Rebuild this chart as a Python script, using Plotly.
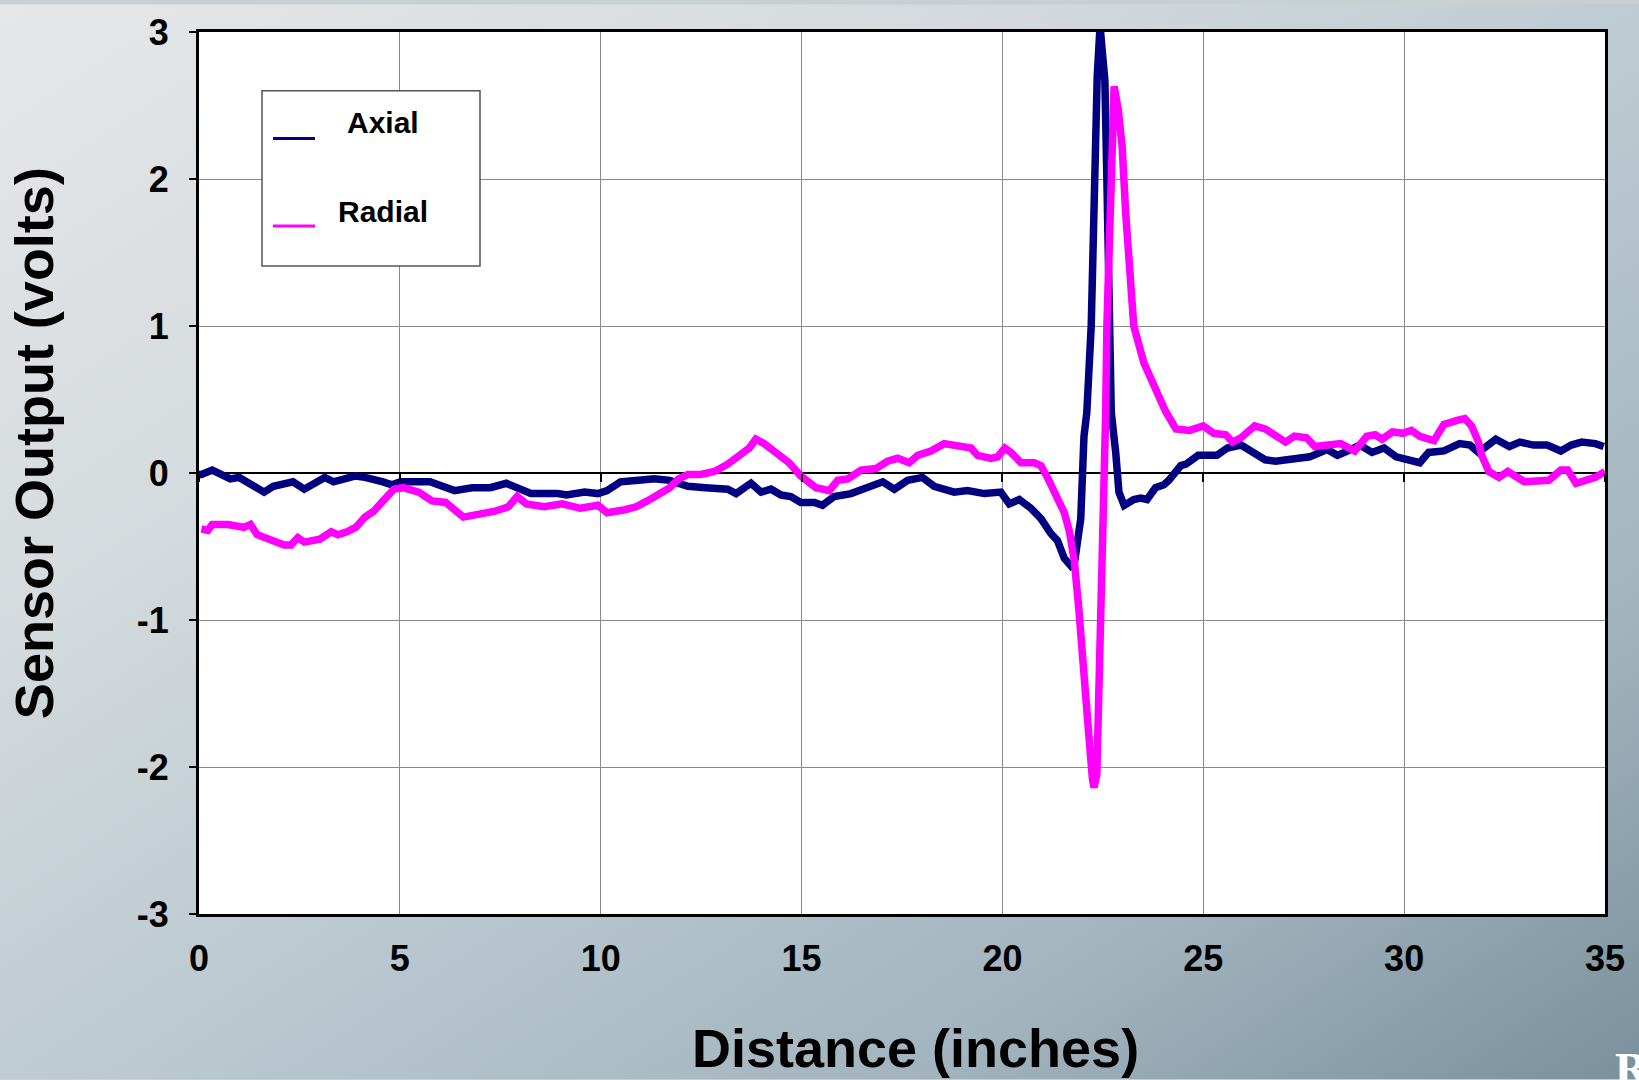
import base64
import plotly.graph_objects as go

# ---------------- data ----------------
axial_x = [0.0, 0.06, 0.33, 0.55, 0.78, 1.0, 1.34, 1.62, 1.85, 2.12, 2.34, 2.62, 2.9, 3.13, 3.35,
           3.6, 3.9, 4.13, 4.35, 4.58, 4.8, 5.02, 5.75, 6.36, 6.8, 7.25, 7.65, 7.92, 8.26, 8.93,
           9.15, 9.6, 9.93, 10.16, 10.49, 10.94, 11.33, 11.72, 12.17, 12.61, 13.16, 13.37, 13.57,
           13.74, 13.99, 14.24, 14.49, 14.73, 14.98, 15.32, 15.52, 15.81, 16.23, 16.64, 17.02,
           17.31, 17.64, 18.01, 18.3, 18.8, 19.13, 19.55, 19.96, 20.17, 20.42, 20.71, 20.96, 21.2,
           21.37, 21.54, 21.7, 21.8, 21.86, 21.95, 22.03, 22.1, 22.21, 22.28, 22.36, 22.43, 22.5,
           22.55, 22.6, 22.65, 22.71, 22.82, 22.9, 23.03, 23.27, 23.44, 23.6, 23.81, 24.02, 24.14,
           24.27, 24.44, 24.57, 24.87, 25.34, 25.6, 25.94, 26.2, 26.54, 26.8, 27.23, 27.65, 28.08,
           28.34, 28.6, 28.9, 29.2, 29.5, 29.8, 30.14, 30.39, 30.61, 30.99, 31.38, 31.64, 31.85,
           32.28, 32.62, 32.88, 33.22, 33.56, 33.9, 34.16, 34.42, 34.76, 34.97]
axial_y = [-0.01, -0.01, 0.02, -0.01, -0.04, -0.03, -0.09, -0.13, -0.09, -0.07, -0.06, -0.11, -0.06,
           -0.03, -0.06, -0.04, -0.02, -0.03, -0.04, -0.06, -0.08, -0.06, -0.06, -0.12, -0.10, -0.10,
           -0.07, -0.10, -0.14, -0.14, -0.15, -0.13, -0.14, -0.12, -0.06, -0.05, -0.04, -0.05, -0.09,
           -0.10, -0.11, -0.14, -0.11, -0.07, -0.13, -0.11, -0.15, -0.16, -0.20, -0.20, -0.22, -0.16,
           -0.14, -0.10, -0.06, -0.11, -0.05, -0.03, -0.09, -0.13, -0.12, -0.14, -0.13, -0.21, -0.18,
           -0.24, -0.31, -0.41, -0.46, -0.58, -0.63, -0.60, -0.51, -0.31, 0.25, 0.41, 1.0, 2.0, 2.7,
           3.04, 2.8, 2.67, 2.0, 1.0, 0.41, 0.14, -0.13, -0.22, -0.18, -0.17, -0.18, -0.10, -0.08,
           -0.05, 0.0, 0.05, 0.06, 0.12, 0.12, 0.17, 0.19, 0.14, 0.09, 0.08, 0.09, 0.11, 0.16, 0.12,
           0.15, 0.19, 0.14, 0.17, 0.11, 0.09, 0.07, 0.14, 0.15, 0.20, 0.19, 0.14, 0.23, 0.18, 0.21,
           0.19, 0.19, 0.15, 0.19, 0.21, 0.20, 0.18]

radial_x = [0.06, 0.22, 0.33, 0.73, 1.12, 1.28, 1.45, 1.73, 2.12, 2.29, 2.46, 2.62, 3.01, 3.29, 3.46,
            3.68, 3.9, 4.13, 4.35, 4.58, 4.85, 5.08, 5.47, 5.8, 6.14, 6.58, 7.03, 7.37, 7.7, 7.92,
            8.15, 8.59, 9.04, 9.49, 9.93, 10.16, 10.6, 10.88, 11.16, 11.5, 11.72, 11.94, 12.17,
            12.49, 12.83, 13.16, 13.49, 13.7, 13.86, 14.07, 14.4, 14.69, 14.98, 15.36, 15.69, 15.9,
            16.15, 16.48, 16.85, 17.14, 17.39, 17.68, 17.89, 18.22, 18.55, 18.88, 19.22, 19.38,
            19.71, 19.88, 20.06, 20.21, 20.46, 20.79, 20.96, 21.12, 21.37, 21.54, 21.67, 21.79, 21.9,
            21.99, 22.07, 22.15, 22.24, 22.28, 22.35, 22.4, 22.46, 22.53, 22.57, 22.6, 22.71, 22.78,
            22.88, 22.98, 23.07, 23.18, 23.27, 23.52, 23.72, 23.86, 24.06, 24.32, 24.66, 25.0, 25.26,
            25.56, 25.73, 25.94, 26.28, 26.54, 27.05, 27.27, 27.57, 27.78, 28.17, 28.42, 28.77,
            29.07, 29.28, 29.45, 29.71, 29.97, 30.18, 30.39, 30.74, 30.99, 31.34, 31.51, 31.68,
            31.85, 31.93, 32.11, 32.36, 32.58, 33.0, 33.3, 33.6, 33.9, 34.07, 34.28, 34.5, 34.76, 35.0]
radial_y = [-0.38, -0.39, -0.35, -0.35, -0.37, -0.35, -0.42, -0.45, -0.49, -0.49, -0.44, -0.47, -0.45,
            -0.40, -0.42, -0.40, -0.37, -0.30, -0.26, -0.19, -0.11, -0.10, -0.13, -0.19, -0.20, -0.30,
            -0.28, -0.26, -0.23, -0.16, -0.21, -0.23, -0.21, -0.24, -0.22, -0.27, -0.25, -0.23, -0.19,
            -0.14, -0.10, -0.04, -0.01, -0.01, 0.01, 0.06, 0.12, 0.17, 0.23, 0.20, 0.13, 0.07, -0.02,
            -0.10, -0.12, -0.05, -0.04, 0.02, 0.03, 0.08, 0.10, 0.07, 0.12, 0.15, 0.20, 0.18, 0.17,
            0.12, 0.10, 0.11, 0.17, 0.14, 0.07, 0.07, 0.05, -0.03, -0.16, -0.27, -0.40, -0.60, -0.92,
            -1.29, -1.56, -1.78, -2.08, -2.14, -2.05, -1.56, -0.88, 0.02, 0.41, 1.0, 2.22, 2.63, 2.48,
            2.22, 1.76, 1.31, 1.0, 0.75, 0.62, 0.52, 0.42, 0.30, 0.29, 0.32, 0.27, 0.26, 0.21, 0.24,
            0.32, 0.30, 0.21, 0.25, 0.24, 0.18, 0.20, 0.20, 0.15, 0.25, 0.26, 0.23, 0.28, 0.27, 0.29,
            0.25, 0.22, 0.33, 0.36, 0.37, 0.32, 0.21, 0.12, 0.01, -0.03, 0.01, -0.06, -0.05, -0.05,
            0.02, 0.02, -0.07, -0.05, -0.03, 0.01]

series_names = ["Axial", "Radial"]
series_colors = ["#000080", "#FF00FF"]
x_ticks = [0, 5, 10, 15, 20, 25, 30, 35]
y_ticks = [-3, -2, -1, 0, 1, 2, 3]
x_title = "Distance (inches)"
y_title = "Sensor Output (volts)"

# ---------------- layout geometry ----------------
W, H = 1639, 1080
ML, MR, MT, MB = 199, 34, 28, 166
PW, PH = W - ML - MR, H - MT - MB
FONT = "Arial, 'Liberation Sans', sans-serif"


def px_x(p):
    return (p - ML) / PW


def px_y(p):
    return (H - MB - p) / PH


# gradient background as an inline SVG image
svg = f'''<svg xmlns="http://www.w3.org/2000/svg" width="{W}" height="{H}" viewBox="0 0 {W} {H}" preserveAspectRatio="none">
<defs>
<linearGradient id="g" x1="0" y1="0" x2="1" y2="1">
<stop offset="0" stop-color="#e6e7e8"/>
<stop offset="0.3" stop-color="#d4dadd"/>
<stop offset="0.55" stop-color="#bac8d0"/>
<stop offset="0.78" stop-color="#a2b4be"/>
<stop offset="1" stop-color="#7a909c"/>
</linearGradient>
</defs>
<rect x="0" y="0" width="{W}" height="{H}" fill="url(#g)"/>
</svg>'''
bg_src = "data:image/svg+xml;base64," + base64.b64encode(svg.encode()).decode()

fig = go.Figure()
fig.add_trace(go.Scatter(x=axial_x, y=axial_y, mode="lines", name=series_names[0],
                         line=dict(color=series_colors[0], width=7.5), showlegend=False))
fig.add_trace(go.Scatter(x=radial_x, y=radial_y, mode="lines", name=series_names[1],
                         line=dict(color=series_colors[1], width=7.5), showlegend=False))
# helper trace so the tick marks on the zero line (x axis crossing) are drawn
fig.add_trace(go.Scatter(x=[x_ticks[0]], y=[None], xaxis="x2", mode="lines",
                         showlegend=False, hoverinfo="skip"))

tickfont = dict(family=FONT, size=36, color="black", weight="bold")

fig.update_layout(
    width=W, height=H,
    margin=dict(l=ML, r=MR, t=MT, b=MB),
    paper_bgcolor="#c8d0d4",
    plot_bgcolor="white",
    showlegend=False,
    xaxis=dict(range=[0, 35], tickvals=x_ticks, ticktext=[str(v) for v in x_ticks],
               showgrid=True, gridcolor="#8a8a8a", gridwidth=1, zeroline=False,
               showline=True, linecolor="black", linewidth=3, mirror=True,
               ticks="", tickfont=tickfont, ticklabelstandoff=11),
    xaxis2=dict(range=[0, 35], tickvals=x_ticks, overlaying="x", anchor="free", position=0.5,
                side="bottom", showgrid=False, zeroline=False, showline=False,
                ticks="outside", ticklen=8, tickwidth=1.5, tickcolor="black",
                showticklabels=False),
    yaxis=dict(range=[-3, 3], tickvals=y_ticks, ticktext=[str(v) for v in y_ticks],
               showgrid=True, gridcolor="#8a8a8a", gridwidth=1,
               zeroline=True, zerolinecolor="black", zerolinewidth=1.5,
               showline=True, linecolor="black", linewidth=3, mirror=True,
               ticks="outside", ticklen=7, tickwidth=1.5, tickcolor="black",
               tickfont=tickfont, ticklabelstandoff=13),
    images=[dict(source=bg_src, xref="paper", yref="paper", x=-ML / PW, y=1 + MT / PH,
                 sizex=W / PW, sizey=H / PH, xanchor="left", yanchor="top",
                 sizing="stretch", layer="below")],
)

# white plot area above the background image
fig.add_shape(type="rect", xref="paper", yref="paper", x0=0, x1=1, y0=0, y1=1,
              fillcolor="white", line=dict(width=0), layer="below")

# legend box drawn like the original
fig.add_shape(type="rect", xref="paper", yref="paper", x0=px_x(262), x1=px_x(480),
              y0=px_y(263), y1=px_y(87), fillcolor="white",
              line=dict(color="#555555", width=1.5), layer="above")
for name, color, ly, ty in zip(series_names, series_colors, [135, 223], [119, 208]):
    fig.add_shape(type="line", xref="paper", yref="paper", x0=px_x(273), x1=px_x(315),
                  y0=px_y(ly), y1=px_y(ly), line=dict(color=color, width=3), layer="above")
    fig.add_annotation(text=name, xref="paper", yref="paper", x=px_x(383), y=px_y(ty),
                       xanchor="center", yanchor="middle", showarrow=False,
                       font=dict(family=FONT, size=30, color="black", weight="bold"))

# axis titles
fig.add_annotation(text=x_title, xref="paper", yref="paper", x=px_x(915), y=px_y(1049),
                   xanchor="center", yanchor="middle", showarrow=False,
                   font=dict(family=FONT, size=54, color="black", weight="bold"))
fig.add_annotation(text=y_title, xref="paper", yref="paper", x=px_x(34), y=px_y(441),
                   xanchor="center", yanchor="middle", showarrow=False, textangle=-90,
                   font=dict(family=FONT, size=54, color="black", weight="bold"))

# cut-off white logo letter in the bottom-right corner
fig.add_annotation(text="R", xref="paper", yref="paper", x=px_x(1612), y=px_y(1044),
                   xanchor="left", yanchor="top", showarrow=False,
                   font=dict(family="'DejaVu Serif', serif", size=40, color="white",
                             weight="bold"))

fig.write_html("out.html")
